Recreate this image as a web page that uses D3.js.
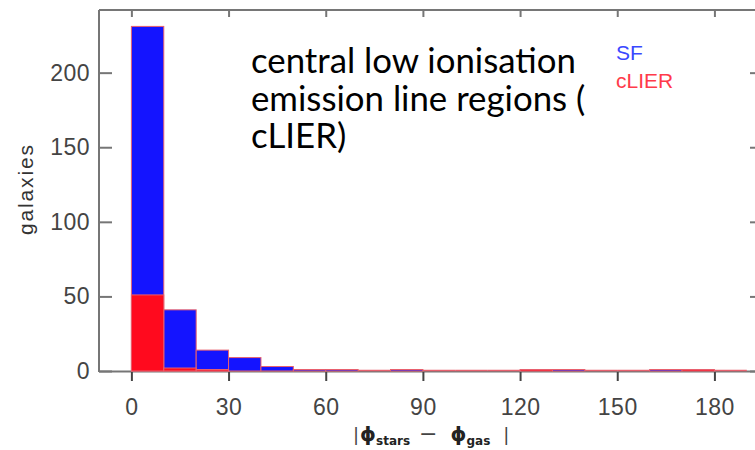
<!DOCTYPE html>
<html>
<head>
<meta charset="utf-8">
<script src="https://cdn.jsdelivr.net/npm/d3@7"></script>
<style>
  body { margin: 0; background: #fff; }
  svg { display: block; }
</style>
</head>
<body>
<svg id="chart" width="755" height="450"></svg>
<script>
// bins of 10 degrees, left edges
var binStarts = [0, 10, 20, 30, 40, 50, 60, 70, 80, 90, 100, 110, 120, 130, 140, 150, 160, 170, 180];
var sfCounts    = [231, 41, 14, 9, 3, 1, 1, 0, 1, 0, 0, 0, 0, 1, 0, 0, 1, 0, 0];
var clierCounts = [51, 2, 1, 0, 0, 0, 0, 0, 0, 0, 0, 0, 1, 0, 0, 0, 0, 1, 0];
var xTicks = [0, 30, 60, 90, 120, 150, 180];
var yTicks = [0, 50, 100, 150, 200];
var noteLines = ["central low ionisation", "emission line regions (", "cLIER)"];
var legendNames = ["SF", "cLIER"];

var binWidth = 10;
var svg = d3.select("#chart");

var x = d3.scaleLinear().domain([-10, 195]).range([99, 763]);
var y = d3.scaleLinear().domain([0, 242]).range([371, 10]);

var axisColor = "#767676";
var outline = "#e8606e";

// bottom axis line (under the bars)
svg.append("line")
  .attr("x1", x(-10)).attr("x2", x(195))
  .attr("y1", y(0) + 0.5).attr("y2", y(0) + 0.5)
  .style("stroke", axisColor).style("stroke-width", 2);

/// Bars

// SF (blue), drawn first
svg.append("g").selectAll("rect")
  .data(binStarts)
  .enter()
  .append("rect")
  .attr("x", function(d){ return x(d); })
  .attr("width", function(d){ return x(d + binWidth) - x(d); })
  .attr("y", function(d, i){ return y(sfCounts[i]); })
  .attr("height", function(d, i){ return y(0) - y(sfCounts[i]); })
  .style("fill", "#1414ff")
  .style("stroke", outline)
  .style("stroke-width", 1);

// cLIER (red), in front
svg.append("g").selectAll("rect")
  .data(binStarts)
  .enter()
  .append("rect")
  .attr("x", function(d){ return x(d); })
  .attr("width", function(d){ return x(d + binWidth) - x(d); })
  .attr("y", function(d, i){ return y(clierCounts[i]); })
  .attr("height", function(d, i){ return y(0) - y(clierCounts[i]); })
  .style("fill", function(d, i){ return clierCounts[i] > 0 ? "#ff0a1e" : "none"; })
  .style("stroke", outline)
  .style("stroke-width", 1);

// empty bins still show their outline along the base
svg.append("g").selectAll("line")
  .data(binStarts.filter(function(d, i){ return sfCounts[i] == 0 && clierCounts[i] == 0; }))
  .enter()
  .append("line")
  .attr("x1", function(d){ return x(d); })
  .attr("x2", function(d){ return x(d + binWidth); })
  .attr("y1", y(0) - 0.5)
  .attr("y2", y(0) - 0.5)
  .style("stroke", outline)
  .style("stroke-width", 1.5);

/// Frame

var frame = svg.append("g").style("stroke", axisColor).style("stroke-width", 2).style("fill", "none");
frame.append("line").attr("x1", x(-10)).attr("x2", x(-10)).attr("y1", y(242)).attr("y2", y(0) + 1);
frame.append("line").attr("x1", x(-10)).attr("x2", x(195)).attr("y1", y(242)).attr("y2", y(242));
frame.append("line").attr("x1", x(195)).attr("x2", x(195)).attr("y1", y(242)).attr("y2", y(0));

/// Axes

var bottomAxis = d3.axisBottom(x).tickValues(xTicks).tickSize(9).tickPadding(18);
var gx = svg.append("g").attr("transform", "translate(0," + (y(0) + 1) + ")").call(bottomAxis);
gx.select(".domain").remove();
gx.selectAll(".tick line").style("stroke", "#444").style("stroke-width", 2);
gx.selectAll(".tick text")
  .style("font-family", "Liberation Sans")
  .style("font-size", "23px")
  .style("fill", "#444")
  .attr("letter-spacing", "0.5px");

var topAxis = d3.axisBottom(x).tickValues(xTicks).tickSize(7).tickFormat("");
var gt = svg.append("g").attr("transform", "translate(0," + y(242) + ")").call(topAxis);
gt.select(".domain").remove();
gt.selectAll(".tick line").style("stroke", axisColor).style("stroke-width", 2);

var leftAxis = d3.axisRight(y).tickValues(yTicks).tickSize(13).tickFormat("");
var gl = svg.append("g").attr("transform", "translate(" + x(-10) + ",0)").call(leftAxis);
gl.select(".domain").remove();
gl.selectAll(".tick line").style("stroke", axisColor).style("stroke-width", 2);

var leftLabels = d3.axisLeft(y).tickValues(yTicks).tickSize(0).tickPadding(9);
var gll = svg.append("g").attr("transform", "translate(" + x(-10) + ",0)").call(leftLabels);
gll.select(".domain").remove();
gll.selectAll(".tick text")
  .style("font-family", "Liberation Sans")
  .style("font-size", "23px")
  .style("fill", "#444")
  .attr("letter-spacing", "0.5px");

var rightAxis = d3.axisLeft(y).tickValues(yTicks).tickSize(13).tickFormat("");
var gr = svg.append("g").attr("transform", "translate(" + x(195) + ",0)").call(rightAxis);
gr.select(".domain").remove();
gr.selectAll(".tick line").style("stroke", axisColor).style("stroke-width", 2);

/// Axis titles

svg.append("text")
  .attr("transform", "translate(33,190) rotate(-90)")
  .attr("text-anchor", "middle")
  .attr("textLength", 90)
  .attr("lengthAdjust", "spacing")
  .style("font-family", "Liberation Sans")
  .style("font-size", "21px")
  .style("fill", "#333")
  .text("galaxies");

var xt = svg.append("text")
  .attr("x", 353)
  .attr("y", 441)
  .style("font-family", "DejaVu Sans")
  .style("fill", "#222");
xt.append("tspan").style("font-size", "18px").style("fill", "#444").text("|");
xt.append("tspan").attr("dx", 1).style("font-size", "20px").style("font-weight", "bold").text("\u03d5");
xt.append("tspan").attr("dy", 4).style("font-size", "12px").style("font-weight", "bold").text("stars");
xt.append("tspan").attr("dy", -4).attr("dx", 9).style("font-size", "22px").style("fill", "#444").text("\u2212");
xt.append("tspan").attr("dx", 13).style("font-size", "20px").style("font-weight", "bold").text("\u03d5");
xt.append("tspan").attr("dy", 4).style("font-size", "12px").style("font-weight", "bold").text("gas");
xt.append("tspan").attr("dy", -4).attr("dx", 13).style("font-size", "18px").style("fill", "#444").text("|");

/// Annotation

var note = svg.append("g")
  .style("font-family", "Lato")
  .style("font-size", "30px")
  .style("fill", "#000");
note.selectAll("text")
  .data(noteLines)
  .enter()
  .append("text")
  .attr("x", 251)
  .attr("y", function(d, i){ return 73 + i * 37.5; })
  .text(function(d){ return d; });

// scale font so first line spans like in the picture
var firstW = note.select("text").node().getComputedTextLength();
note.style("font-size", (30 * 325 / firstW) + "px");

/// Legend

var legendColors = ["#3a48ff", "#ff3a4a"];
svg.append("g").selectAll("text")
  .data(legendNames)
  .enter()
  .append("text")
  .attr("x", 616)
  .attr("y", function(d, i){ return 60 + i * 28; })
  .style("font-family", "Liberation Sans")
  .style("font-size", "21px")
  .style("fill", function(d, i){ return legendColors[i]; })
  .text(function(d){ return d; });
</script>
</body>
</html>
